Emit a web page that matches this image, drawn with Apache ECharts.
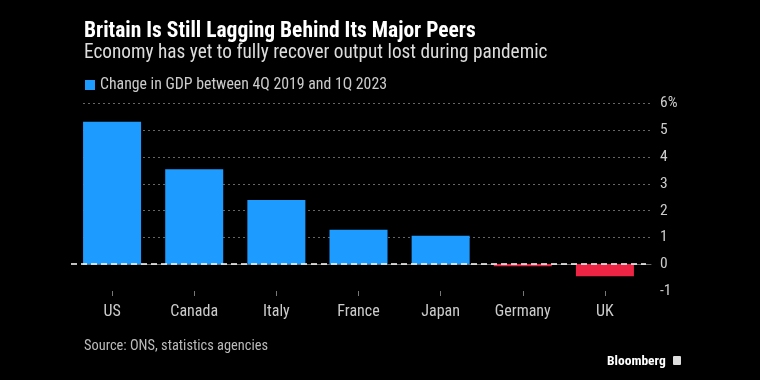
<!DOCTYPE html>
<html><head><meta charset="utf-8">
<script src="https://cdn.jsdelivr.net/npm/echarts@6/dist/echarts.min.js"></script>
<style>html,body{margin:0;padding:0;background:#000}#c{width:760px;height:380px}</style>
</head><body><div id="c"></div>
<script>
const categories = ['US','Canada','Italy','France','Japan','Germany','UK'];
const gdpChange = [5.32, 3.55, 2.4, 1.29, 1.06, -0.08, -0.45];
const seriesName = 'Change in GDP between 4Q 2019 and 1Q 2023';
const yTicks = [-1,0,1,2,3,4,5,6];

const FONT = '"Liberation Sans Narrow","Roboto Condensed","Noto Sans",sans-serif';
const BLUE = '#1e9bff', RED = '#ee2445';

const chart = echarts.init(document.getElementById('c'));
chart.setOption({
  backgroundColor: '#000',
  animation: false,
  title: [
    {text: 'Britain Is Still Lagging Behind Its Major Peers', left: 84, top: 21, padding: 0,
     textStyle: {color: '#fff', fontFamily: FONT, fontSize: 21.5, fontWeight: 'bold'}},
    {text: 'Economy has yet to fully recover output lost during pandemic', left: 84, top: 44, padding: 0,
     textStyle: {color: '#ddd', fontFamily: FONT, fontSize: 19.3, fontWeight: 'normal'}},
    {text: 'Source: ONS, statistics agencies', left: 84, top: 339, padding: 0,
     textStyle: {color: '#bbb', fontFamily: FONT, fontSize: 14.4, fontWeight: 'normal'}},
    {text: 'Bloomberg', left: 607, top: 355, padding: 0,
     textStyle: {color: '#fff', fontFamily: FONT, fontSize: 13.5, fontWeight: 'bold'}}
  ],
  graphic: [
    {type: 'rect', left: 673, top: 356, shape: {width: 8, height: 9, r: 1}, style: {fill: '#ddd'}}
  ],
  legend: {
    left: 80, top: 72, icon: 'rect', itemWidth: 10, itemHeight: 10, itemGap: 6,
    data: [{name: seriesName, itemStyle: {color: BLUE}}],
    textStyle: {color: '#ccc', fontFamily: FONT, fontSize: 15.8}
  },
  grid: [
    {left: 71, right: 114, top: 103.5, bottom: 89},
    {left: 83, right: 109, top: 103.5, bottom: 89}
  ],
  xAxis: [
    {type: 'category', gridIndex: 0, data: categories,
     axisLine: {show: false, onZero: false},
     axisTick: {show: true, alignWithLabel: true, length: 5, lineStyle: {color: '#777'}},
     axisLabel: {color: '#ccc', fontFamily: FONT, fontSize: 16, margin: 13}},
    {type: 'value', gridIndex: 1, min: 0, max: 1, show: true,
     axisLine: {show: true, onZero: true, lineStyle: {color: '#666', width: 1}},
     axisTick: {show: false}, axisLabel: {show: false}, splitLine: {show: false}}
  ],
  yAxis: [
    {type: 'value', gridIndex: 0, min: -1, max: 6, interval: 1, show: false},
    {type: 'value', gridIndex: 1, min: -1, max: 6, interval: 1, position: 'right',
     axisLine: {show: false}, axisTick: {show: false},
     axisLabel: {margin: 9, color: '#ccc', fontFamily: FONT, fontSize: 15.5,
       formatter: v => (v === yTicks[yTicks.length-1] ? v + '%' : String(v))},
     splitLine: {show: true, lineStyle: {type: [2,3], width: 1,
       color: ['rgba(0,0,0,0)', '#666', '#666', '#666', '#666', '#666', '#666', '#666']}}}
  ],
  series: [{
    name: seriesName, type: 'bar', xAxisIndex: 0, yAxisIndex: 0,
    barWidth: 58,
    data: gdpChange.map(v => ({value: v, itemStyle: {color: v < 0 ? RED : BLUE}})),
    itemStyle: {color: BLUE},
    markLine: {silent: true, symbol: 'none', label: {show: false},
      lineStyle: {color: '#fff', type: [6,4], width: 1.5},
      data: [{yAxis: 0}]}
  }]
});
</script></body></html>
